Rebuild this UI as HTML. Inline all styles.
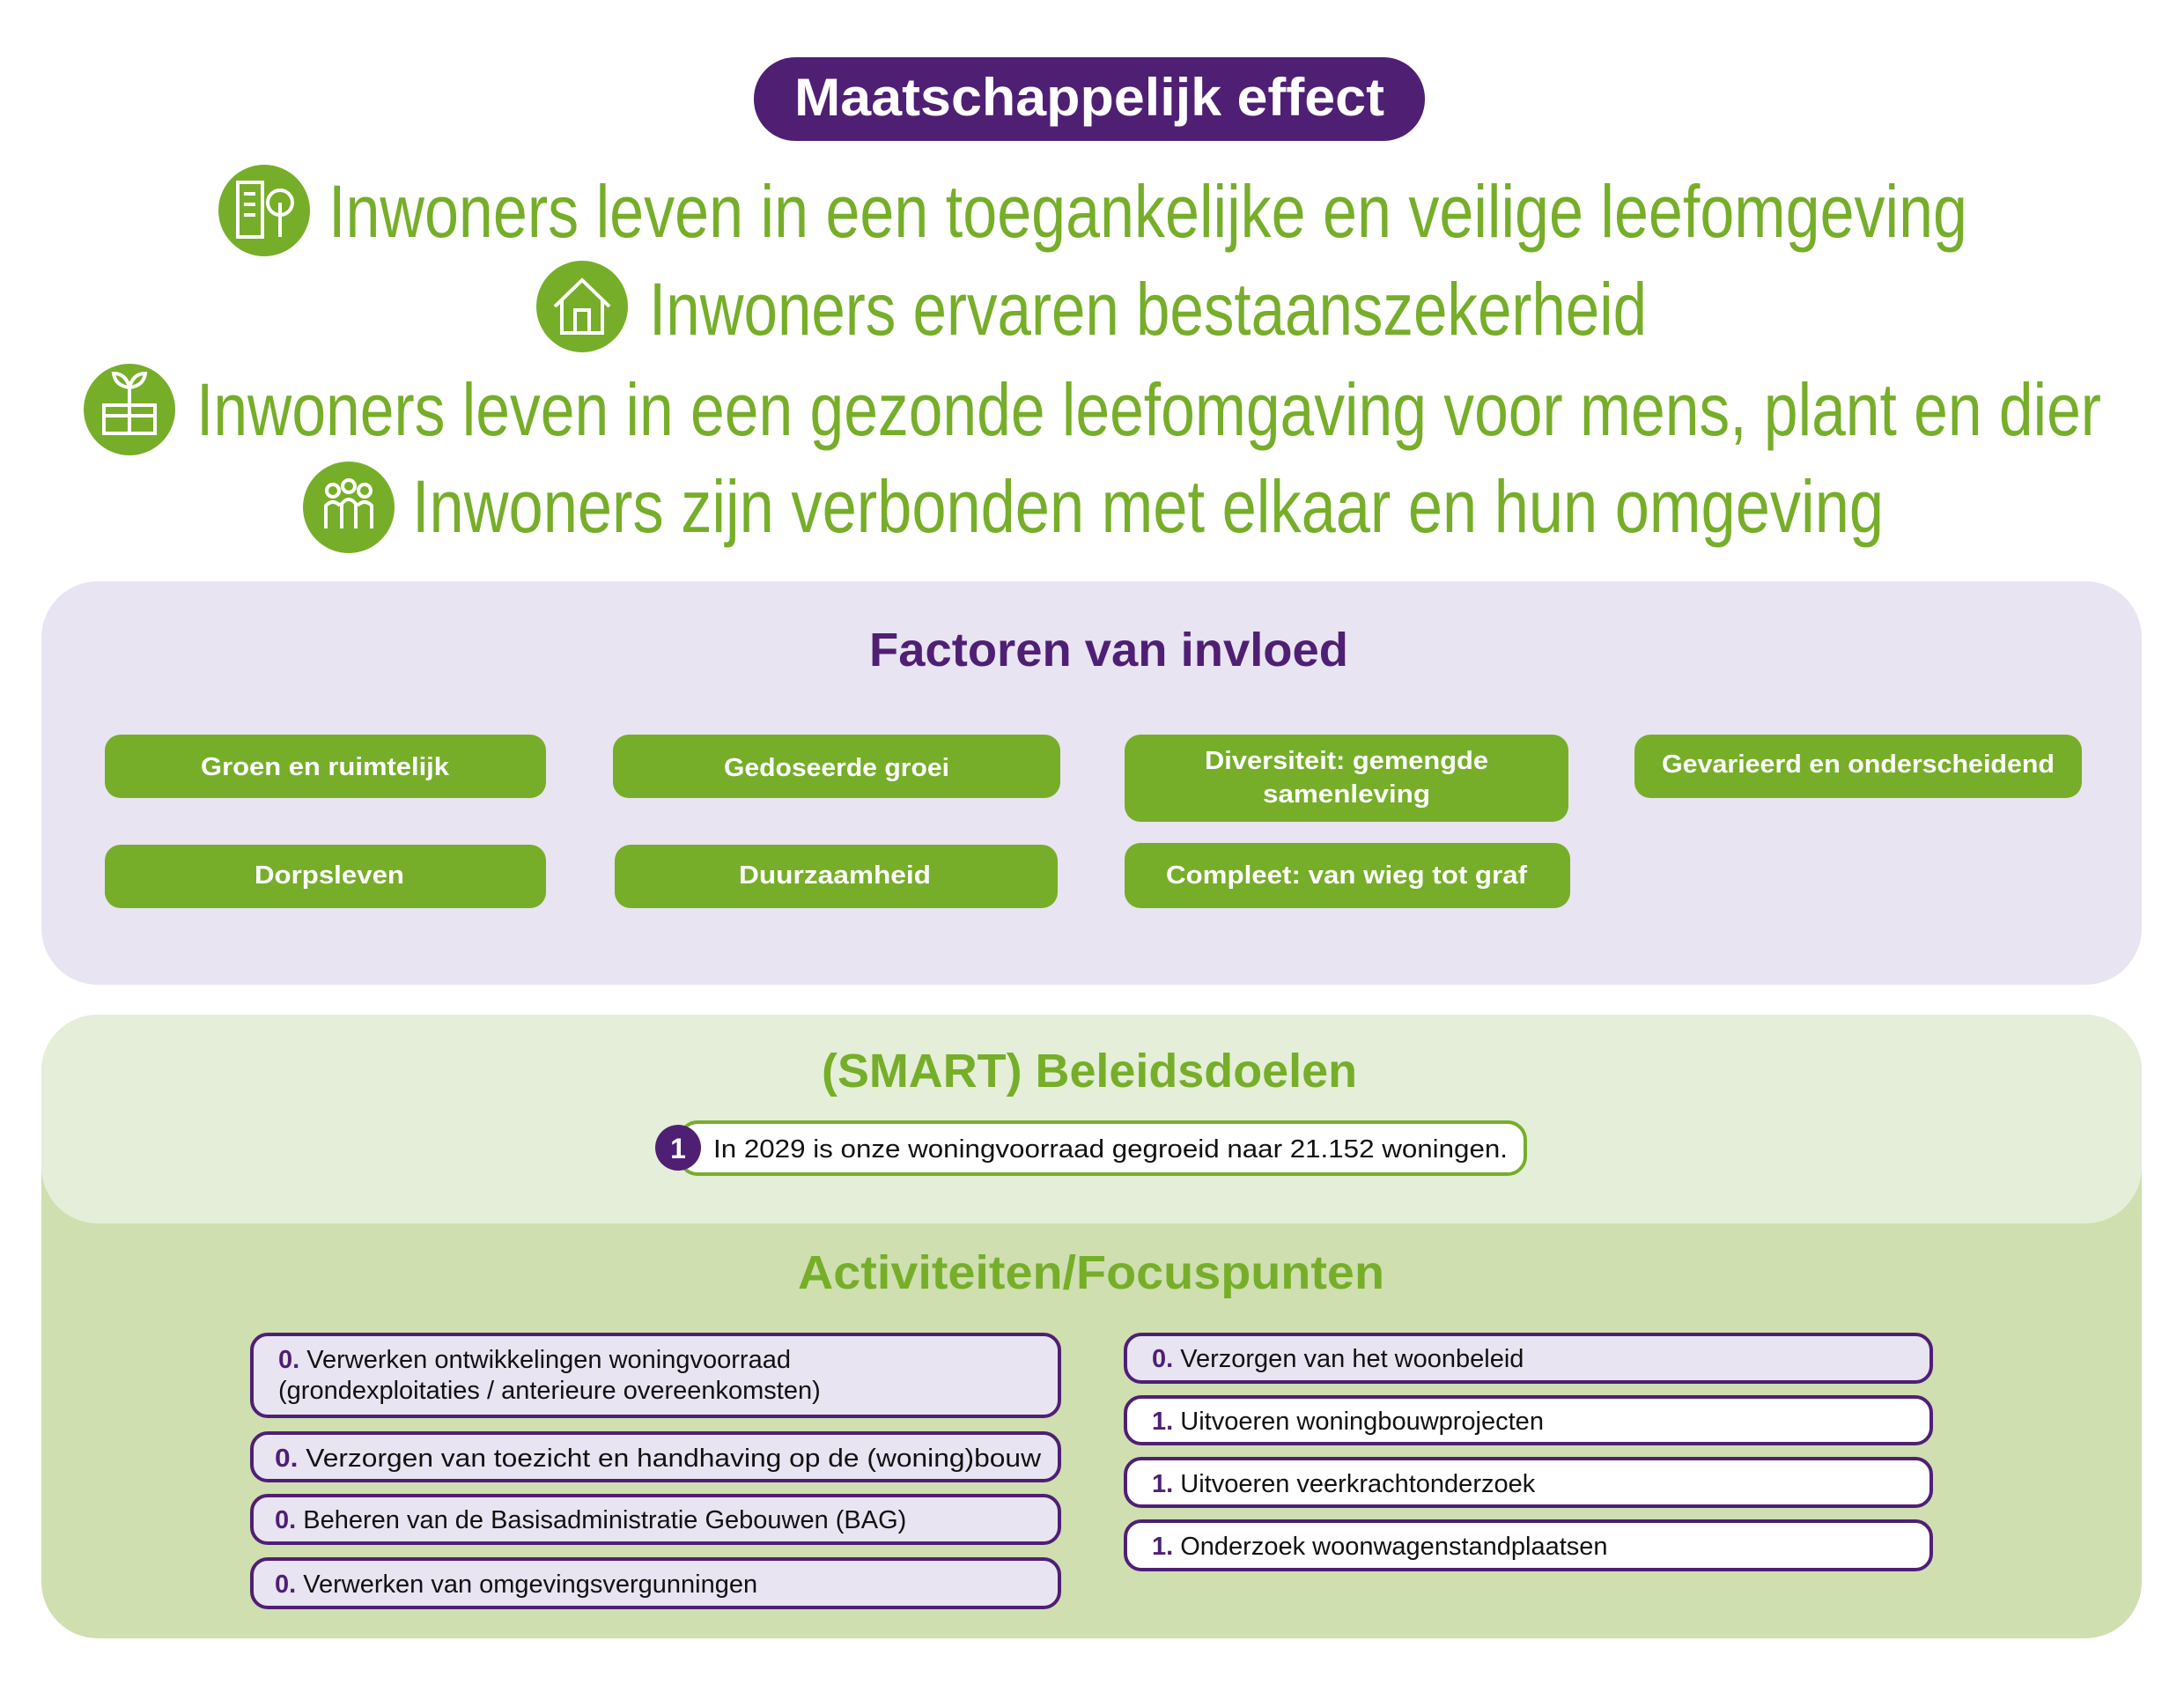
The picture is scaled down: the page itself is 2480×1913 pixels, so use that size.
<!DOCTYPE html>
<html><head><meta charset="utf-8"><style>html,body{margin:0;padding:0;background:#fff}svg{display:block}</style></head>
<body>
<svg width="2480" height="1913" viewBox="0 0 2480 1913" xmlns="http://www.w3.org/2000/svg" font-family="Liberation Sans, sans-serif">
<rect width="2480" height="1913" fill="#fff"/>
<!-- title pill -->
<rect x="856" y="65" width="762" height="95" rx="47" fill="#4f1f74"/>
<text x="1237" y="131" text-anchor="middle" font-size="60" font-weight="bold" fill="#fff" textLength="670" lengthAdjust="spacingAndGlyphs">Maatschappelijk effect</text>

<g fill="#76ae29">
<circle cx="300" cy="239" r="52"/><circle cx="661" cy="348" r="52"/><circle cx="147" cy="465" r="52"/><circle cx="396" cy="576" r="52"/>
</g>
<g stroke="#fff" stroke-width="4" fill="none">
<rect x="270" y="207" width="28" height="62"/><line x1="277" y1="220" x2="290" y2="220"/><line x1="277" y1="232" x2="290" y2="232"/><line x1="277" y1="244" x2="290" y2="244"/><circle cx="318" cy="230" r="14"/><line x1="318" y1="230" x2="318" y2="269"/>
<path d="M630 348 L661 318 L692 348 M638 340 V378 H684 V340"/><rect x="653" y="352" width="16" height="26"/>
<rect x="118" y="460" width="58" height="32"/><line x1="147" y1="460" x2="147" y2="492"/><line x1="118" y1="472" x2="176" y2="472"/><line x1="147" y1="460" x2="147" y2="438"/><path d="M147 440 q-16 -2 -18 -16 q14 0 18 16 q4 -16 18 -16 q-2 14 -18 16"/>
<circle cx="378" cy="557" r="7"/><circle cx="396" cy="552" r="7"/><circle cx="414" cy="557" r="7"/><path d="M370 600 v-26 q8 -8 16 0 M388 600 v-28 q8 -10 16 0 v28 M406 574 q8 -8 16 0 v26"/>
</g>
<g font-size="84" fill="#76ae29">
<text x="373" y="269" textLength="1861" lengthAdjust="spacingAndGlyphs">Inwoners leven in een toegankelijke en veilige leefomgeving</text>
<text x="737" y="380" textLength="1133" lengthAdjust="spacingAndGlyphs">Inwoners ervaren bestaanszekerheid</text>
<text x="223" y="494" textLength="2163" lengthAdjust="spacingAndGlyphs">Inwoners leven in een gezonde leefomgaving voor mens, plant en dier</text>
<text x="468" y="604" textLength="1671" lengthAdjust="spacingAndGlyphs">Inwoners zijn verbonden met elkaar en hun omgeving</text>
</g>

<!-- Factoren panel -->
<rect x="47" y="660" width="2385" height="458" rx="64" fill="#e8e4f2"/>
<text x="1259" y="756" text-anchor="middle" font-size="54" font-weight="bold" fill="#4f1f74" textLength="544" lengthAdjust="spacingAndGlyphs">Factoren van invloed</text>
<g fill="#76ae29">
<rect x="119" y="834" width="501" height="72" rx="18"/>
<rect x="696" y="834" width="508" height="72" rx="18"/>
<rect x="1277" y="834" width="504" height="99" rx="18"/>
<rect x="1856" y="834" width="508" height="72" rx="18"/>
<rect x="119" y="959" width="501" height="72" rx="18"/>
<rect x="698" y="959" width="503" height="72" rx="18"/>
<rect x="1277" y="957" width="506" height="74" rx="18"/>
</g>
<g font-size="29" font-weight="bold" fill="#fff" text-anchor="middle">
<text x="369" y="880" textLength="282" lengthAdjust="spacingAndGlyphs">Groen en ruimtelijk</text>
<text x="950" y="881" textLength="256" lengthAdjust="spacingAndGlyphs">Gedoseerde groei</text>
<text x="1529" y="873" textLength="322" lengthAdjust="spacingAndGlyphs">Diversiteit: gemengde</text>
<text x="1529" y="911" textLength="190" lengthAdjust="spacingAndGlyphs">samenleving</text>
<text x="2110" y="877" textLength="446" lengthAdjust="spacingAndGlyphs">Gevarieerd en onderscheidend</text>
<text x="374" y="1003" textLength="170" lengthAdjust="spacingAndGlyphs">Dorpsleven</text>
<text x="948" y="1003" textLength="218" lengthAdjust="spacingAndGlyphs">Duurzaamheid</text>
<text x="1529" y="1003" textLength="410" lengthAdjust="spacingAndGlyphs">Compleet: van wieg tot graf</text>
</g>

<!-- SMART panel -->
<rect x="47" y="1152" width="2385" height="708" rx="64" fill="#cfdfb0"/>
<path d="M47 1216 a64 64 0 0 1 64 -64 H2368 a64 64 0 0 1 64 64 V1325 a64 64 0 0 1 -64 64 H111 a64 64 0 0 1 -64 -64 Z" fill="#e5eed8"/>
<text x="1237" y="1234" text-anchor="middle" font-size="54" font-weight="bold" fill="#76ae29" textLength="608" lengthAdjust="spacingAndGlyphs">(SMART) Beleidsdoelen</text>
<rect x="772" y="1274" width="960" height="59" rx="20" fill="#fff" stroke="#76ae29" stroke-width="4"/>
<circle cx="770" cy="1303" r="26" fill="#4f1f74"/>
<text x="770" y="1315" text-anchor="middle" font-size="32" font-weight="bold" fill="#fff">1</text>
<text x="810" y="1314" font-size="29" fill="#111" textLength="902" lengthAdjust="spacingAndGlyphs">In 2029 is onze woningvoorraad gegroeid naar 21.152 woningen.</text>

<text x="1239" y="1463" text-anchor="middle" font-size="54" font-weight="bold" fill="#76ae29" textLength="666" lengthAdjust="spacingAndGlyphs">Activiteiten/Focuspunten</text>

<g stroke="#4f1f74" stroke-width="4">
<rect x="286" y="1515" width="917" height="93" rx="18" fill="#e8e4f2"/>
<rect x="286" y="1627" width="917" height="54" rx="18" fill="#e8e4f2"/>
<rect x="286" y="1698" width="917" height="54" rx="18" fill="#e8e4f2"/>
<rect x="286" y="1770" width="917" height="55" rx="18" fill="#e8e4f2"/>
<rect x="1278" y="1515" width="915" height="54" rx="18" fill="#e8e4f2"/>
<rect x="1278" y="1586" width="915" height="53" rx="18" fill="#fff"/>
<rect x="1278" y="1656" width="915" height="54" rx="18" fill="#fff"/>
<rect x="1278" y="1727" width="915" height="55" rx="18" fill="#fff"/>
</g>
<g font-size="29" fill="#111">
<text x="316" y="1553"><tspan font-weight="bold" fill="#4f1f74">0.</tspan> Verwerken ontwikkelingen woningvoorraad</text>
<text x="316" y="1588">(grondexploitaties / anterieure overeenkomsten)</text>
<text x="312" y="1665" textLength="870" lengthAdjust="spacingAndGlyphs"><tspan font-weight="bold" fill="#4f1f74">0.</tspan> Verzorgen van toezicht en handhaving op de (woning)bouw</text>
<text x="312" y="1735"><tspan font-weight="bold" fill="#4f1f74">0.</tspan> Beheren van de Basisadministratie Gebouwen (BAG)</text>
<text x="312" y="1808"><tspan font-weight="bold" fill="#4f1f74">0.</tspan> Verwerken van omgevingsvergunningen</text>
<text x="1308" y="1552"><tspan font-weight="bold" fill="#4f1f74">0.</tspan> Verzorgen van het woonbeleid</text>
<text x="1308" y="1623"><tspan font-weight="bold" fill="#4f1f74">1.</tspan> Uitvoeren woningbouwprojecten</text>
<text x="1308" y="1694"><tspan font-weight="bold" fill="#4f1f74">1.</tspan> Uitvoeren veerkrachtonderzoek</text>
<text x="1308" y="1765"><tspan font-weight="bold" fill="#4f1f74">1.</tspan> Onderzoek woonwagenstandplaatsen</text>
</g>
</svg>
</body></html>
